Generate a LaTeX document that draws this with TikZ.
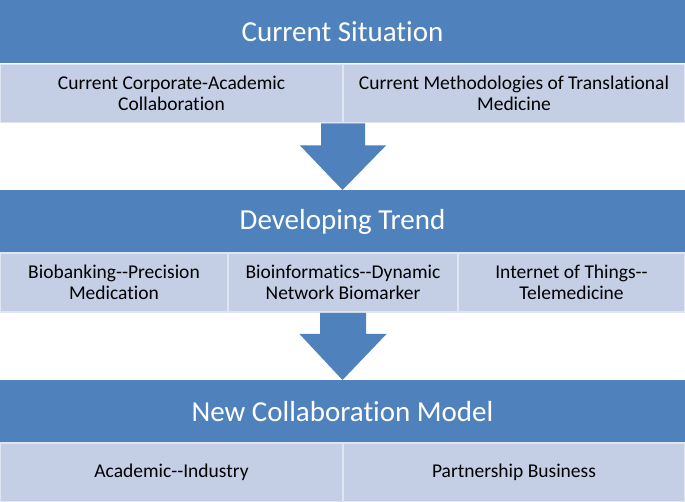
\documentclass[tikz,border=0pt]{standalone}
\usepackage{fontspec}
\newfontfamily\calfont{Carlito}[Ligatures={NoCommon}]
\usetikzlibrary{calc}
\definecolor{hdrblue}{HTML}{4F81BD}
\definecolor{cellfill}{HTML}{C4CFE5}
\tikzset{
  hdr/.style={rectangle, fill=hdrblue, inner sep=0pt, outer sep=0pt, minimum width=685pt, minimum height=63pt,
    text=white, font=\calfont\fontsize{29}{35}\selectfont},
  cell/.style={rectangle, fill=cellfill, draw=white!45!cellfill, line width=1.5pt, inner sep=0pt, outer sep=0pt,
    minimum height=58pt, align=center, text=black, font=\calfont\fontsize{19.5}{21}\selectfont},
  blockarr/.style={fill=hdrblue}
}
\begin{document}
\begin{tikzpicture}[x=1pt,y=-1pt]
\useasboundingbox[fill=white] (0,0) rectangle (685,502);
% tier 1
\node[hdr] (h1) at (342.5,32) {Current Situation};
\node[cell, minimum width=343pt] (r1a) at (171.5,93.5) {Current Corporate-Academic\\Collaboration};
\node[cell, minimum width=342pt] (r1b) at (514,93.5) {Current Methodologies of Translational\\Medicine};
% tier 2
\node[hdr] (h2) at (342.5,221.5) {Developing Trend};
\node[cell, minimum width=228pt, minimum height=59pt] (r2a) at (114,282.5) {Biobanking-{}-Precision\\Medication};
\node[cell, minimum width=230pt, minimum height=59pt] (r2b) at (343,282.5) {Bioinformatics-{}-Dynamic\\Network Biomarker};
\node[cell, minimum width=227pt, minimum height=59pt] (r2c) at (571.5,282.5) {Internet of Things-{}-\\Telemedicine};
% tier 3
\node[hdr] (h3) at (342.5,411.5) {New Collaboration Model};
\node[cell, minimum width=343pt, minimum height=59pt] (r3a) at (171.5,472.5) {Academic-{}-Industry};
\node[cell, minimum width=342pt, minimum height=59pt] (r3b) at (514,472.5) {Partnership Business};
% arrows
\coordinate (s1) at ($(r1a.south east)+(0,1)$);
\fill[blockarr] ($(s1)+(-22,0)$) -- ($(s1)+(22,0)$) -- ($(s1)+(22,22)$) -- ($(s1)+(43,22)$)
  -- (h2.north) -- ($(s1)+(-43,22)$) -- ($(s1)+(-22,22)$) -- cycle;
\coordinate (s2) at ($(r2b.south)+(0,1)$);
\fill[blockarr] ($(s2)+(-23,0)$) -- ($(s2)+(23,0)$) -- ($(s2)+(23,21)$) -- ($(s2)+(43.5,21)$)
  -- (h3.north) -- ($(s2)+(-43.5,21)$) -- ($(s2)+(-23,21)$) -- cycle;
\end{tikzpicture}
\end{document}
